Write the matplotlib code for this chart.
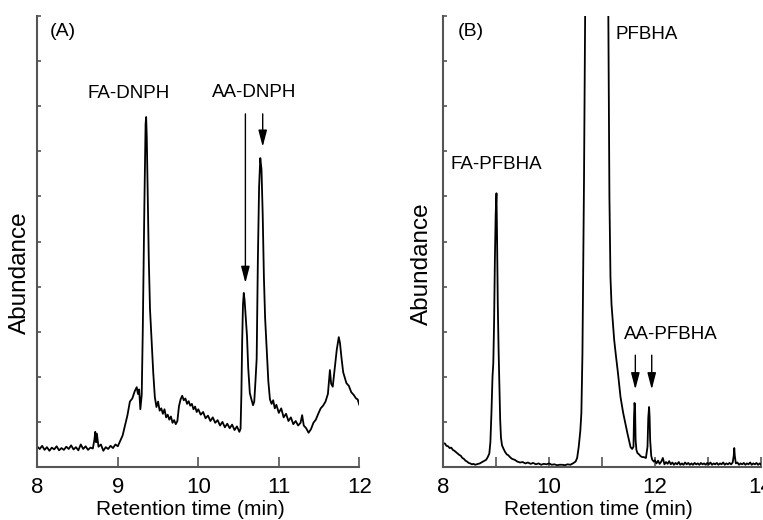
import numpy as np
import matplotlib
matplotlib.use("Agg")
import matplotlib.pyplot as plt

plt.rcParams['font.family'] = ['Liberation Sans', 'DejaVu Sans']

# panel A, DNPH derivatives
timeA = [8.00, 8.03, 8.06, 8.09, 8.12, 8.15, 8.18, 8.21, 8.24, 8.27, 8.30, 8.33, 8.36, 8.39,
         8.42, 8.45, 8.48, 8.51, 8.54, 8.57, 8.60, 8.63, 8.66, 8.69, 8.71, 8.72, 8.73, 8.74,
         8.76, 8.79, 8.82, 8.85, 8.88, 8.91, 8.94, 8.97, 9.00, 9.03, 9.06, 9.09, 9.12, 9.15,
         9.18, 9.21, 9.235, 9.25, 9.265, 9.28, 9.297, 9.31, 9.33, 9.345, 9.352, 9.36, 9.37,
         9.385, 9.40, 9.42, 9.44, 9.46, 9.48, 9.50, 9.52, 9.54, 9.56, 9.58, 9.60, 9.62, 9.64,
         9.66, 9.68, 9.70, 9.72, 9.74, 9.76, 9.78, 9.80, 9.82, 9.84, 9.86, 9.88, 9.90, 9.92,
         9.94, 9.96, 9.98, 10.00, 10.03, 10.06, 10.09, 10.12, 10.15, 10.18, 10.21, 10.24,
         10.27, 10.30, 10.33, 10.36, 10.39, 10.42, 10.45, 10.48, 10.51, 10.525, 10.535,
         10.545, 10.555, 10.565, 10.575, 10.59, 10.605, 10.62, 10.64, 10.66, 10.68, 10.695,
         10.71, 10.725, 10.74, 10.755, 10.77, 10.785, 10.80, 10.815, 10.83, 10.85, 10.87,
         10.89, 10.91, 10.93, 10.95, 10.97, 11.00, 11.03, 11.06, 11.09, 11.12, 11.15, 11.18,
         11.21, 11.24, 11.27, 11.29, 11.31, 11.34, 11.37, 11.40, 11.43, 11.46, 11.49, 11.52,
         11.55, 11.58, 11.61, 11.635, 11.65, 11.67, 11.69, 11.72, 11.745, 11.76, 11.78, 11.80,
         11.82, 11.84, 11.87, 11.90, 11.93, 11.96, 11.98, 12.00]
abundA = [0.45, 0.40, 0.47, 0.38, 0.44, 0.36, 0.43, 0.39, 0.46, 0.37, 0.42, 0.38, 0.45, 0.40,
          0.48, 0.39, 0.44, 0.37, 0.50, 0.40, 0.46, 0.38, 0.43, 0.41, 0.62, 0.78, 0.55, 0.74,
          0.45, 0.50, 0.36, 0.44, 0.40, 0.47, 0.42, 0.50, 0.46, 0.58, 0.70, 0.92, 1.15, 1.45,
          1.52, 1.68, 1.77, 1.62, 1.72, 1.28, 1.60, 3.0, 5.8, 7.6, 7.76, 7.3, 6.2,
          4.6, 3.5, 2.8, 2.1, 1.55, 1.33, 1.45, 1.25, 1.30, 1.18, 1.28, 1.10, 1.16, 1.05,
          1.12, 0.98, 1.04, 0.95, 1.02, 1.35, 1.50, 1.58, 1.48, 1.52, 1.40, 1.46, 1.36, 1.40,
          1.28, 1.34, 1.22, 1.28, 1.16, 1.22, 1.08, 1.14, 1.02, 1.10, 0.98, 1.04,
          0.92, 1.00, 0.88, 0.96, 0.86, 0.94, 0.82, 0.90, 0.78, 0.85, 1.6,
          2.8, 3.6, 3.86, 3.7, 3.3, 2.9, 2.2, 1.64, 1.50, 1.37, 1.45,
          1.9, 2.4, 4.6, 6.2, 6.85, 6.6, 5.6, 4.2, 3.3, 2.6, 1.9,
          1.50, 1.40, 1.48, 1.30, 1.38, 1.20, 1.30, 1.10, 1.18, 1.02, 1.10, 0.95,
          1.02, 0.92, 0.98, 1.15, 0.92, 0.86, 0.76, 0.84, 0.98, 1.05, 1.18, 1.30,
          1.36, 1.45, 1.62, 2.15, 1.85, 1.78, 2.1, 2.6, 2.88, 2.75, 2.4, 2.1,
          1.98, 1.86, 1.80, 1.66, 1.60, 1.52, 1.50, 1.38]

# panel B, PFBHA derivatives
timeB = [8.00, 8.03, 8.06, 8.09, 8.12, 8.15, 8.18, 8.21, 8.24, 8.27, 8.30, 8.33, 8.36, 8.39,
         8.42, 8.45, 8.48, 8.51, 8.54, 8.57, 8.60, 8.63, 8.66, 8.69, 8.72, 8.75, 8.78, 8.81,
         8.84, 8.87, 8.89, 8.91, 8.93, 8.945, 8.96, 8.975, 8.99, 9.005, 9.015, 9.03, 9.045,
         9.06, 9.075, 9.09, 9.11, 9.14, 9.17, 9.20, 9.23, 9.26, 9.30, 9.35, 9.40, 9.45, 9.50,
         9.55, 9.60, 9.65, 9.70, 9.75, 9.80, 9.85, 9.90, 9.95, 10.00, 10.05, 10.10, 10.15,
         10.20, 10.25, 10.30, 10.35, 10.40, 10.45, 10.50, 10.53, 10.56, 10.59, 10.61, 10.63,
         10.645, 10.66, 10.68, 10.70, 11.10, 11.12, 11.14, 11.16, 11.18, 11.23, 11.26, 11.30,
         11.35, 11.40, 11.45, 11.48, 11.51, 11.54, 11.57, 11.595, 11.605, 11.615, 11.625,
         11.635, 11.65, 11.67, 11.70, 11.73, 11.76, 11.79, 11.83, 11.86, 11.875, 11.89, 11.90,
         11.91, 11.93, 11.95, 11.98, 12.00, 12.03, 12.06, 12.09, 12.12, 12.15, 12.18, 12.21,
         12.24, 12.27, 12.30, 12.33, 12.36, 12.39, 12.42, 12.45, 12.48, 12.51, 12.54, 12.57,
         12.60, 12.63, 12.66, 12.69, 12.72, 12.75, 12.78, 12.81, 12.84, 12.87, 12.90, 12.93,
         12.96, 12.99, 13.02, 13.05, 13.08, 13.11, 13.14, 13.17, 13.20, 13.23, 13.26, 13.29,
         13.32, 13.35, 13.38, 13.41, 13.44, 13.47, 13.49, 13.50, 13.51, 13.53, 13.56, 13.59,
         13.62, 13.65, 13.68, 13.71, 13.74, 13.77, 13.80, 13.83, 13.86, 13.89, 13.92, 13.95,
         13.98, 14.00]
abundB = [0.53, 0.52, 0.47, 0.46, 0.42, 0.43, 0.38, 0.36, 0.33, 0.30, 0.27, 0.25, 0.20, 0.18,
          0.14, 0.12, 0.09, 0.08, 0.06, 0.07, 0.05, 0.06, 0.07, 0.08, 0.10, 0.12, 0.14, 0.16,
          0.22, 0.30, 0.55, 1.2, 2.0, 2.3, 3.2, 4.6, 5.6, 6.07, 5.2, 3.6, 2.6,
          1.8, 1.05, 0.65, 0.48, 0.40, 0.33, 0.28, 0.26, 0.22, 0.18, 0.16, 0.12, 0.10, 0.11,
          0.08, 0.10, 0.07, 0.09, 0.06, 0.08, 0.05, 0.07, 0.06, 0.08, 0.05, 0.06, 0.04,
          0.05, 0.05, 0.04, 0.06, 0.05, 0.08, 0.12, 0.20, 0.45, 0.8, 1.2, 2.5,
          4.5, 6.4, 9.7, 14.0, 14.0, 9.9, 6.0, 4.2, 3.6, 2.82, 2.5, 2.1,
          1.55, 1.2, 0.92, 0.75, 0.6, 0.44, 0.40, 0.45, 1.1, 1.42, 1.3,
          0.6, 0.38, 0.31, 0.28, 0.24, 0.22, 0.22, 0.20, 0.45, 1.1, 1.33, 1.1,
          0.6, 0.25, 0.16, 0.12, 0.15, 0.08, 0.14, 0.07, 0.12, 0.20, 0.06, 0.11,
          0.07, 0.13, 0.06, 0.10, 0.05, 0.09, 0.06, 0.11, 0.05, 0.08, 0.05, 0.10,
          0.06, 0.09, 0.05, 0.08, 0.05, 0.09, 0.06, 0.08, 0.05, 0.09, 0.06, 0.08,
          0.05, 0.09, 0.06, 0.10, 0.05, 0.08, 0.06, 0.09, 0.05, 0.08, 0.06, 0.10,
          0.05, 0.08, 0.06, 0.09, 0.06, 0.10, 0.25, 0.42, 0.25, 0.08, 0.10, 0.05,
          0.08, 0.06, 0.09, 0.05, 0.08, 0.06, 0.10, 0.05, 0.08, 0.06, 0.09, 0.05,
          0.08, 0.06]

labelsA = ['FA-DNPH', 'AA-DNPH']
labelsB = ['FA-PFBHA', 'PFBHA', 'AA-PFBHA']
ticksB = [8, 9, 10, 11, 12, 13, 14]
ticklabelsB = ['8', '', '10', '', '12', '', '14']

spine_col = '#555555'


def style_axis(ax, xlim, ticks, ticklabels):
    ax.set_xlim(*xlim)
    ax.set_ylim(0, 10)
    ax.spines['top'].set_visible(False)
    ax.spines['right'].set_visible(False)
    for s in ('left', 'bottom'):
        ax.spines[s].set_color(spine_col)
        ax.spines[s].set_linewidth(1.5)
    ax.set_xticks(ticks)
    ax.set_xticklabels(ticklabels)
    ax.set_yticks(range(1, 11))
    ax.set_yticklabels([])
    ax.tick_params(axis='x', direction='in', length=7.5, width=1.2, color=spine_col,
                   labelsize=16, pad=7)
    ax.tick_params(axis='y', direction='in', length=3, width=1.2, color=spine_col)


def arrow(ax, x, y0, y1):
    ax.annotate('', xy=(x, y1), xytext=(x, y0),
                arrowprops=dict(arrowstyle='-|>,head_length=0.5,head_width=0.13',
                                mutation_scale=20, color='k', lw=1.0,
                                shrinkA=0, shrinkB=0))


fig = plt.figure(figsize=(7.63, 5.2), dpi=100)
axA = fig.add_axes([0.0489, 0.1019, 0.422, 0.8673])
axB = fig.add_axes([0.581, 0.1019, 0.416, 0.8673])

axA.plot(timeA, abundA, color='k', lw=1.3)
style_axis(axA, (8, 12), [8, 9, 10, 11, 12], ['8', '9', '10', '11', '12'])
axA.text(8.16, 9.65, '(A)', fontsize=14, va='center', ha='left')
axA.text(9.13, 8.29, labelsA[0], fontsize=13.5, va='center', ha='center')
axA.text(10.70, 8.31, labelsA[1], fontsize=13.5, va='center', ha='center')
arrow(axA, 10.585, 7.83, 4.08)
arrow(axA, 10.80, 7.83, 7.1)
axA.set_xlabel('Retention time (min)', fontsize=15)
axA.xaxis.set_label_coords(0.474, -0.095)
axA.xaxis.label.set_va('center')
axA.set_ylabel('Abundance', fontsize=17.5)
axA.yaxis.set_label_coords(-0.054, 0.43)
axA.yaxis.label.set_va('center')

axB.plot(timeB, abundB, color='k', lw=1.3)
style_axis(axB, (8, 14), ticksB, ticklabelsB)
axB.text(8.27, 9.65, '(B)', fontsize=14, va='center', ha='left')
axB.text(8.14, 6.70, labelsB[0], fontsize=13.5, va='center', ha='left')
axB.text(11.26, 9.58, labelsB[1], fontsize=13.5, va='center', ha='left')
axB.text(11.41, 2.93, labelsB[2], fontsize=13.5, va='center', ha='left')
arrow(axB, 11.63, 2.48, 1.72)
arrow(axB, 11.94, 2.48, 1.72)
axB.set_xlabel('Retention time (min)', fontsize=15)
axB.xaxis.set_label_coords(0.489, -0.095)
axB.xaxis.label.set_va('center')
axB.set_ylabel('Abundance', fontsize=17.5)
axB.yaxis.set_label_coords(-0.068, 0.45)
axB.yaxis.label.set_va('center')

fig.savefig('out.png', dpi=100)
